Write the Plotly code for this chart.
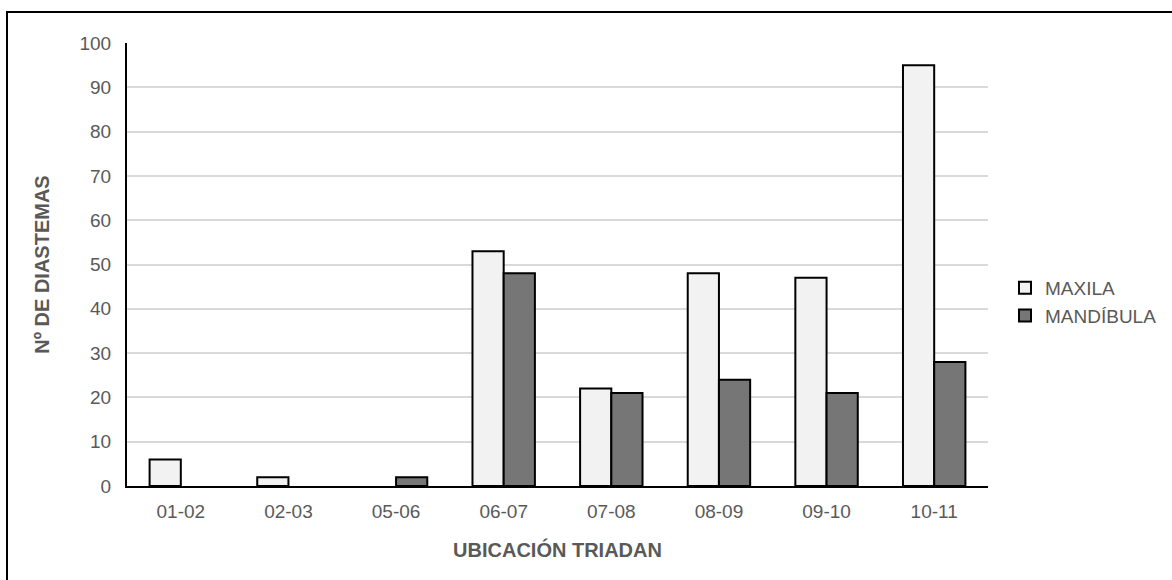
import plotly.graph_objects as go

# Diastema counts by Triadan position, split by jaw
categories = ["01-02", "02-03", "05-06", "06-07", "07-08", "08-09", "09-10", "10-11"]
maxila = [6, 2, 0, 53, 22, 48, 47, 95]
mandibula = [0, 0, 2, 48, 21, 24, 21, 28]

text_color = "#595959"
font_family = "Liberation Sans, Arial, sans-serif"

# Plot area in pixels (used to place the outer frame)
W, H = 1172, 580
L, R, T, B = 127, 184, 43, 94
pw, ph = W - L - R, H - T - B


def hide_zero(values):
    # empty categories get no bar outline at the baseline
    return [v if v != 0 else None for v in values]


fig = go.Figure()
fig.add_trace(go.Bar(
    name="MAXILA", x=categories, y=hide_zero(maxila),
    marker=dict(color="#f2f2f2", line=dict(color="#000000", width=2)),
))
fig.add_trace(go.Bar(
    name="MANDÍBULA", x=categories, y=hide_zero(mandibula),
    marker=dict(color="#767676", line=dict(color="#000000", width=2)),
))

fig.update_layout(
    width=W, height=H,
    margin=dict(l=L, r=R, t=T, b=B, autoexpand=False),
    paper_bgcolor="white", plot_bgcolor="white",
    barmode="group", bargap=0.42, bargroupgap=0,
    font=dict(family=font_family, size=19, color=text_color),
    showlegend=True,
    legend=dict(
        x=(1005 - L) / pw, xanchor="left",
        y=(486 - 302) / ph, yanchor="middle",
        font=dict(size=19, color=text_color),
        bgcolor="rgba(0,0,0,0)", tracegroupgap=0,
    ),
    xaxis=dict(
        type="category",
        showgrid=False, showline=True, linecolor="#000000", linewidth=2,
        ticks="", ticklabelstandoff=7, tickfont=dict(size=19, color=text_color),
        title=dict(text="<b>UBICACIÓN TRIADAN</b>", font=dict(size=20, color=text_color), standoff=22),
    ),
    yaxis=dict(
        range=[0, 100], dtick=10, showgrid=True, gridcolor="#d9d9d9", gridwidth=2,
        showline=True, linecolor="#000000", linewidth=2, zeroline=False,
        ticks="", ticklabelstandoff=10, tickfont=dict(size=19, color=text_color),
        title=dict(text="<b>Nº DE DIASTEMAS</b>", font=dict(size=20, color=text_color), standoff=24),
    ),
    shapes=[dict(
        type="rect", xref="paper", yref="paper",
        x0=(7 - L) / pw, x1=(1300 - L) / pw,
        y0=(486 - 700) / ph, y1=(486 - 12) / ph,
        line=dict(color="#000000", width=2), fillcolor="rgba(0,0,0,0)", layer="below",
    )],
)

fig.write_html("out.html")
